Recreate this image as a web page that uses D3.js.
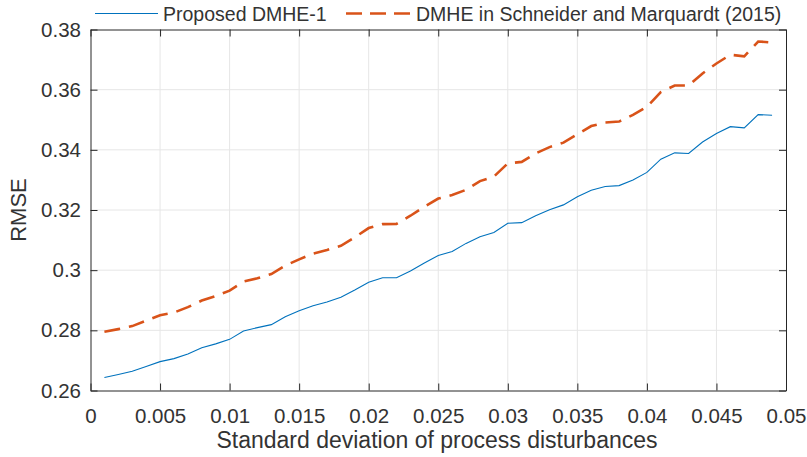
<!DOCTYPE html>
<html>
<head>
<meta charset="utf-8">
<script src="https://cdn.jsdelivr.net/npm/d3@7"></script>
<style>
  body { margin: 0; background: #fff; }
  text { font-family: "Liberation Sans", Arial, Helvetica, sans-serif; fill: #333; }
</style>
</head>
<body>
<svg width="807" height="457"></svg>
<script>
// x values: std of process disturbances
var sigma = d3.range(1, 50).map(function(i) { return +(i * 0.001).toFixed(3); });

var proposed = [
  0.2643, 0.2653, 0.2664, 0.2680, 0.2696, 0.2706, 0.2721, 0.2742, 0.2755, 0.2770,
  0.2798, 0.2809, 0.2819, 0.2845, 0.2865, 0.2882, 0.2894, 0.2910, 0.2934, 0.2960,
  0.2975, 0.2975, 0.2997, 0.3024, 0.3049, 0.3062, 0.3089, 0.3111, 0.3125, 0.3156,
  0.3158, 0.3181, 0.3201, 0.3217, 0.3244, 0.3266, 0.3278, 0.3281, 0.3300, 0.3325,
  0.3369, 0.3390, 0.3388, 0.3426, 0.3454, 0.3477, 0.3473, 0.3517, 0.3515
];

var schneider = [
  0.2795, 0.2804, 0.2814, 0.2832, 0.2850, 0.2859, 0.2877, 0.2899, 0.2914, 0.2932,
  0.2962, 0.2973, 0.2987, 0.3015, 0.3036, 0.3055, 0.3067, 0.3081, 0.3109, 0.3140,
  0.3153, 0.3154, 0.3181, 0.3211, 0.3238, 0.3250, 0.3267, 0.3296, 0.3311, 0.3355,
  0.3360, 0.3388, 0.3409, 0.3424, 0.3452, 0.3479, 0.3491, 0.3494, 0.3516, 0.3543,
  0.3592, 0.3614, 0.3614, 0.3654, 0.3687, 0.3716, 0.3711, 0.3760, 0.3757
];

var xTicks = [0, 0.005, 0.01, 0.015, 0.02, 0.025, 0.03, 0.035, 0.04, 0.045, 0.05];
var yTicks = [0.26, 0.28, 0.3, 0.32, 0.34, 0.36, 0.38];

var seriesNames = ["Proposed DMHE-1", "DMHE in Schneider and Marquardt (2015)"];
var seriesColors = ["#0072BD", "#D95319"];

function drawChart() {
  var svg = d3.select("svg");

  // plot box
  var pLeft = 90.5, pRight = 786, pTop = 29.5, pBottom = 390.5;

  var x = d3.scaleLinear().domain([0, 0.05]).range([pLeft, pRight]);
  var y = d3.scaleLinear().domain([0.26, 0.38]).range([pBottom, pTop]);

  // grid
  var grid = svg.append("g").attr("class", "grid");
  grid.selectAll("line.gx")
    .data(xTicks.slice(1, -1))
    .enter().append("line")
      .attr("x1", function(d) { return x(d); })
      .attr("x2", function(d) { return x(d); })
      .attr("y1", pTop).attr("y2", pBottom)
      .attr("stroke", "#e6e6e6").attr("stroke-width", 1);
  grid.selectAll("line.gy")
    .data(yTicks.slice(1, -1))
    .enter().append("line")
      .attr("y1", function(d) { return y(d); })
      .attr("y2", function(d) { return y(d); })
      .attr("x1", pLeft).attr("x2", pRight)
      .attr("stroke", "#e6e6e6").attr("stroke-width", 1);

  // lines
  var line = d3.line()
      .x(function(d, i) { return x(sigma[i]); })
      .y(function(d) { return y(d); });

  svg.append("path")
      .datum(schneider)
      .attr("fill", "none")
      .attr("stroke", seriesColors[1])
      .attr("stroke-width", 2.6)
      .attr("stroke-dasharray", "16,9")
      .attr("d", line);

  svg.append("path")
      .datum(proposed)
      .attr("fill", "none")
      .attr("stroke", seriesColors[0])
      .attr("stroke-width", 1.1)
      .attr("d", line);

  // axes (ticks inward, mirrored on top/right)
  var tickLen = 7;
  var xFmt = function(d) { return d === 0 ? "0" : String(d); };

  svg.append("g")
      .attr("transform", "translate(0," + pBottom + ")")
      .call(d3.axisBottom(x).tickValues(xTicks).tickFormat(xFmt).tickSizeInner(-tickLen).tickSizeOuter(0).tickPadding(17.5));
  svg.append("g")
      .attr("transform", "translate(0," + pTop + ")")
      .call(d3.axisTop(x).tickValues(xTicks).tickFormat("").tickSizeInner(-tickLen).tickSizeOuter(0));
  svg.append("g")
      .attr("transform", "translate(" + pLeft + ",0)")
      .call(d3.axisLeft(y).tickValues(yTicks).tickFormat(String).tickSizeInner(-tickLen).tickSizeOuter(0).tickPadding(9.5));
  svg.append("g")
      .attr("transform", "translate(" + pRight + ",0)")
      .call(d3.axisRight(y).tickValues(yTicks).tickFormat("").tickSizeInner(-tickLen).tickSizeOuter(0));

  svg.selectAll(".domain").attr("stroke", "#262626").attr("stroke-width", 1);
  svg.selectAll(".tick line").attr("stroke", "#262626");
  svg.selectAll(".tick text").style("font-size", "20.5px").attr("fill", "#333");

  // axis labels
  svg.append("text")
      .attr("x", 437)
      .attr("y", 448)
      .attr("text-anchor", "middle")
      .style("font-size", "23px")
      .text("Standard deviation of process disturbances");

  svg.append("text")
      .attr("transform", "translate(26," + (pTop + pBottom) / 2 + ") rotate(-90)")
      .attr("text-anchor", "middle")
      .style("font-size", "22px")
      .text("RMSE");

  // legend, no box, above plot
  var legend = svg.append("g").attr("class", "legend");
  legend.append("line")
      .attr("x1", 95).attr("x2", 158).attr("y1", 13.5).attr("y2", 13.5)
      .attr("stroke", seriesColors[0]).attr("stroke-width", 1.1);
  legend.append("text")
      .attr("x", 163).attr("y", 20.5)
      .style("font-size", "19.5px")
      .text(seriesNames[0]);
  legend.append("line")
      .attr("x1", 346).attr("x2", 410).attr("y1", 13.5).attr("y2", 13.5)
      .attr("stroke", seriesColors[1]).attr("stroke-width", 2.6)
      .attr("stroke-dasharray", "16,8");
  legend.append("text")
      .attr("x", 416).attr("y", 20.5)
      .style("font-size", "19.5px")
      .text(seriesNames[1]);
}

drawChart();
</script>
</body>
</html>
